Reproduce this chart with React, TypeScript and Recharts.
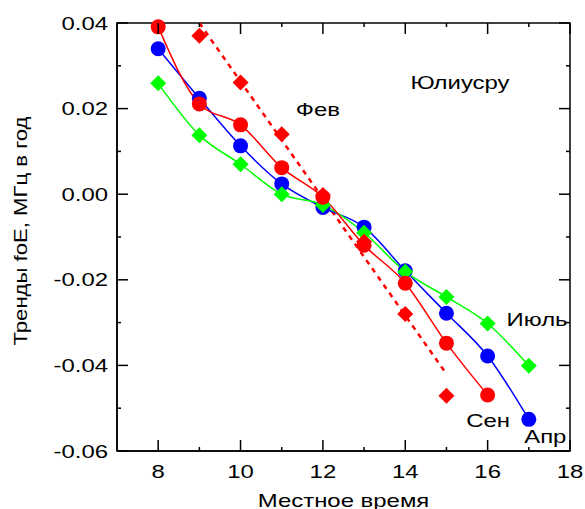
import React from 'react';
import {
  ComposedChart,
  Line,
  XAxis,
  YAxis,
  ReferenceArea,
  ReferenceDot,
  Label,
} from 'recharts';

// hours of local time and the trend values per month
const hours = [8, 9, 10, 11, 12, 13, 14, 15, 16, 17];
const aprTrend = [0.034, 0.0224, 0.0113, 0.0024, -0.0031, -0.0077, -0.0179, -0.0278, -0.0378, -0.0526];
const sepTrend = [0.0391, 0.0211, 0.0162, 0.0062, -0.0007, -0.0119, -0.0208, -0.0348, -0.0469, null];
const julTrend = [0.0259, 0.0138, 0.007, 0.0, -0.0025, -0.009, -0.0181, -0.024, -0.0302, -0.0401];
const febTrend = [null, 0.037, 0.0261, 0.014, -0.0002, -0.0111, -0.028, -0.0471, null, null];
// straight fit through the Feb points (end points)
const febFit = [null, 0.04, null, null, null, null, null, -0.042, null, null];

const xTicks = [8, 9, 10, 11, 12, 13, 14, 15, 16, 17, 18];
const yTicks = [-0.06, -0.05, -0.04, -0.03, -0.02, -0.01, 0, 0.01, 0.02, 0.03, 0.04];

// text tags placed in data coordinates: [text, hour, value]
const tags: [string, number, number][] = [
  ['Юлиусру', 15.33, 0.0262],
  ['Фев', 11.88, 0.0197],
  ['Июль', 17.2, -0.0292],
  ['Сен', 16.01, -0.0529],
  ['Апр', 17.4, -0.0567],
];

const W = 585;
const H = 509;
const PLOT_LEFT = 117;
const PLOT_TOP = 23;
const PLOT_RIGHT = 570;
const PLOT_BOTTOM = 451;
const FONT = '"Liberation Sans", Arial, sans-serif';
const FS = 18;
const STRETCH = 1.33;

const rows = hours.map((h, i) => ({
  hour: h,
  apr: aprTrend[i],
  sep: sepTrend[i],
  jul: julTrend[i],
  feb: febTrend[i],
  febFit: febFit[i],
}));

const StretchText = ({x, y, anchor = 'middle', rotate = 0, stretch = STRETCH, children}: any) => (
  <text
    transform={`translate(${x},${y}) rotate(${rotate}) scale(${stretch},1)`}
    textAnchor={anchor}
    fontFamily={FONT}
    fontSize={FS}
    fill="#000"
  >
    {children}
  </text>
);

const XTick = ({x, payload}: any) => {
  const v = payload.value;
  const major = v % 2 === 0;
  const len = major ? 11 : 4;
  return (
    <g>
      <line x1={x} x2={x} y1={PLOT_BOTTOM} y2={PLOT_BOTTOM - len} stroke="#000" strokeWidth={1.5} />
      <line x1={x} x2={x} y1={PLOT_TOP} y2={PLOT_TOP + len} stroke="#000" strokeWidth={1.5} />
      {major && (
        <StretchText x={x} y={478}>
          {v}
        </StretchText>
      )}
    </g>
  );
};

const YTick = ({y, payload}: any) => {
  const v = payload.value;
  const major = Math.round(v * 100) % 2 === 0;
  const len = major ? 11 : 4;
  return (
    <g>
      <line x1={PLOT_LEFT} x2={PLOT_LEFT + len} y1={y} y2={y} stroke="#000" strokeWidth={1.5} />
      <line x1={PLOT_RIGHT} x2={PLOT_RIGHT - len} y1={y} y2={y} stroke="#000" strokeWidth={1.5} />
      {major && (
        <StretchText x={108} y={y + 6.5} anchor="end">
          {v.toFixed(2)}
        </StretchText>
      )}
    </g>
  );
};

const circleDot = (color: string) => (props: any) => {
  const {cx, cy, index} = props;
  if (cx == null || cy == null) return <g key={`c${index}`} />;
  return <circle key={`c${index}`} cx={cx} cy={cy} r={7.5} fill={color} />;
};

const diamondDot = (color: string, s: number) => (props: any) => {
  const {cx, cy, index} = props;
  if (cx == null || cy == null) return <g key={`d${index}`} />;
  return (
    <polygon
      key={`d${index}`}
      points={`${cx},${cy - s} ${cx + s},${cy} ${cx},${cy + s} ${cx - s},${cy}`}
      fill={color}
    />
  );
};

const Tag = ({viewBox, text}: any) => {
  const cx = viewBox.x + viewBox.width / 2;
  const cy = viewBox.y + viewBox.height / 2;
  return (
    <StretchText x={cx} y={cy + 6.5}>
      {text}
    </StretchText>
  );
};

const App = () => {
  return (
    <div style={{position: 'absolute', left: 0, top: 0, width: W, height: H, background: '#fff'}}>
      <ComposedChart
        width={W}
        height={H}
        data={rows}
        margin={{top: PLOT_TOP, right: W - PLOT_RIGHT, left: 0, bottom: 0}}
      >
        <XAxis
          type="number"
          dataKey="hour"
          domain={[7, 18]}
          ticks={xTicks}
          interval={0}
          height={H - PLOT_BOTTOM}
          tickLine={false}
          axisLine={{stroke: '#000', strokeWidth: 1.5}}
          tick={<XTick />}
        >
          <Label
            content={() => (
              <StretchText x={(PLOT_LEFT + PLOT_RIGHT) / 2} y={507}>
                Местное время
              </StretchText>
            )}
          />
        </XAxis>
        <YAxis
          type="number"
          domain={[-0.06, 0.04]}
          ticks={yTicks}
          interval={0}
          width={PLOT_LEFT}
          tickLine={false}
          axisLine={{stroke: '#000', strokeWidth: 1.5}}
          tick={<YTick />}
        >
          <Label
            content={() => (
              <StretchText x={27} y={231} rotate={-90} stretch={1.23}>
                Тренды foE, МГц в год
              </StretchText>
            )}
          />
        </YAxis>
        <ReferenceArea x1={7} x2={18} y1={-0.06} y2={0.04} fill="none" stroke="#000" strokeWidth={1.5} />

        <Line
          dataKey="febFit"
          type="linear"
          stroke="#ff0000"
          strokeWidth={2.5}
          strokeDasharray="5 5"
          dot={false}
          activeDot={false}
          connectNulls
          isAnimationActive={false}
        />
        <Line
          dataKey="apr"
          type="monotone"
          stroke="#0000ff"
          strokeWidth={1.5}
          dot={circleDot('#0000ff')}
          activeDot={false}
          isAnimationActive={false}
        />
        <Line
          dataKey="jul"
          type="monotone"
          stroke="#00ff00"
          strokeWidth={1.5}
          dot={diamondDot('#00ff00', 8)}
          activeDot={false}
          isAnimationActive={false}
        />
        <Line
          dataKey="sep"
          type="monotone"
          stroke="#ff0000"
          strokeWidth={1.5}
          dot={circleDot('#ff0000')}
          activeDot={false}
          isAnimationActive={false}
        />
        <Line
          dataKey="feb"
          type="linear"
          stroke="none"
          dot={diamondDot('#ff0000', 8)}
          activeDot={false}
          isAnimationActive={false}
        />

        {tags.map(([text, x, y]) => (
          <ReferenceDot
            key={text}
            x={x}
            y={y}
            r={1}
            fill="none"
            stroke="none"
            label={<Tag text={text} />}
          />
        ))}
      </ComposedChart>
    </div>
  );
};

export default App;
